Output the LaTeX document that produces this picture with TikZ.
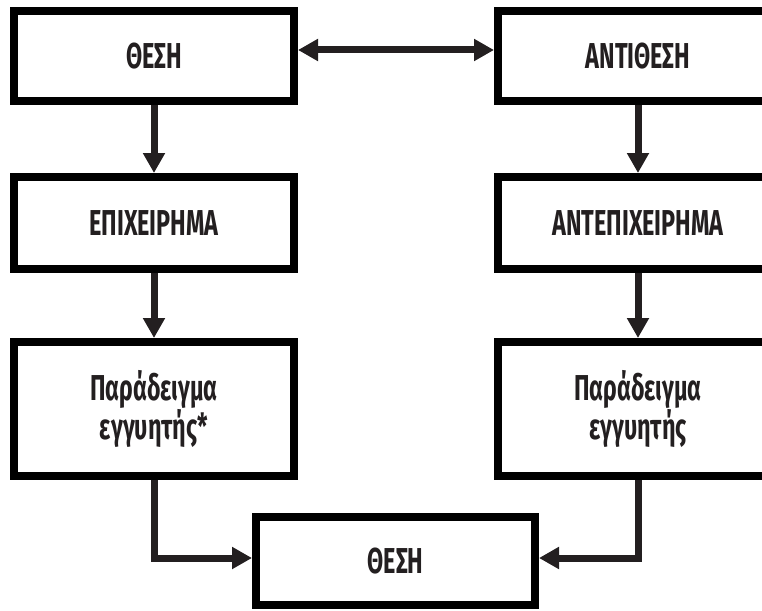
\documentclass[tikz,border=0pt]{standalone}
\usepackage{fontspec}
\newfontfamily\dfont{Fira Sans}[FakeStretch=0.65]
\usetikzlibrary{arrows.meta}
\definecolor{ink}{HTML}{231F20}
\tikzset{
  box/.style={draw=black, line width=8pt, fill=white, minimum width=280pt, align=center,
    text=ink, font=\dfont\bfseries\fontsize{36}{31}\selectfont, inner sep=0pt},
  conn/.style={draw=ink, line width=7pt, -{Triangle[width=21pt,length=20pt]}},
  dconn/.style={draw=ink, line width=7pt, {Triangle[width=21pt,length=20pt]}-{Triangle[width=21pt,length=20pt]}}
}
\begin{document}
\begin{tikzpicture}[x=1pt,y=1pt]
\useasboundingbox (0,0) rectangle (762,-610);
\clip (0,0) rectangle (762,-610);
\node[box, minimum height=90pt] (b1) at (154,-56) {ΘΕΣΗ};
\node[box, minimum height=90pt] (b2) at (638,-56) {ΑΝΤΙΘΕΣΗ};
\node[box, minimum height=92pt] (b3) at (154,-223) {ΕΠΙΧΕΙΡΗΜΑ};
\node[box, minimum height=92pt] (b4) at (638,-223) {ΑΝΤΕΠΙΧΕΙΡΗΜΑ};
\node[box, minimum height=134pt] (b5) at (154,-409) {Παράδειγμα\\εγγυητής*};
\node[box, minimum height=134pt] (b6) at (638,-409) {Παράδειγμα\\εγγυητής};
\node[box, minimum width=279pt, minimum height=88pt] (b7) at (395.5,-561) {ΘΕΣΗ};
\draw[dconn] ([yshift=6pt]b1.east) -- ([yshift=6pt]b2.west);
\draw[conn] (b1.south) -- (b3.north);
\draw[conn] (b2.south) -- (b4.north);
\draw[conn] (b3.south) -- (b5.north);
\draw[conn] (b4.south) -- (b6.north);
\draw[conn] (b5.south) |- ([yshift=3pt]b7.west);
\draw[conn] (b6.south) |- ([yshift=3pt]b7.east);
\end{tikzpicture}
\end{document}
